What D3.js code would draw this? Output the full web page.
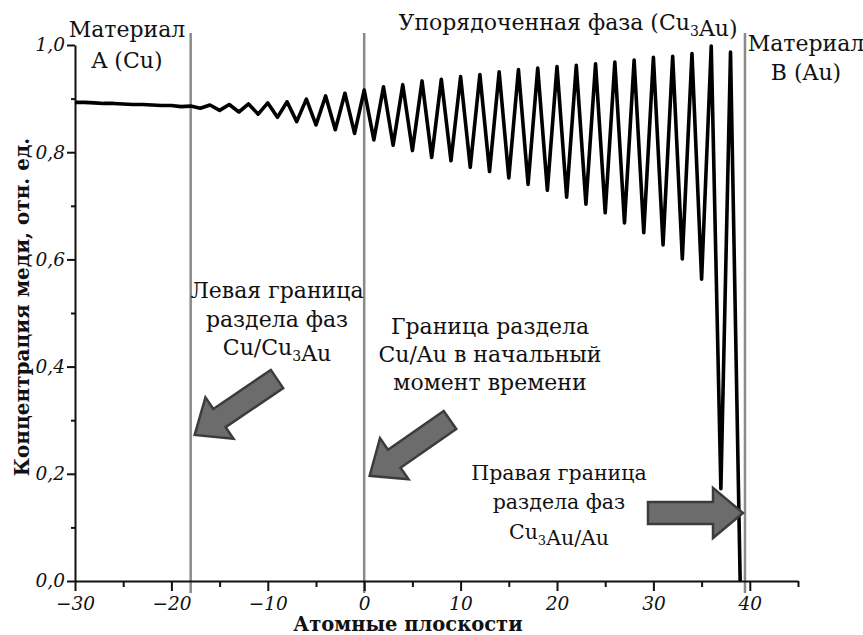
<!DOCTYPE html>
<html>
<head>
<meta charset="utf-8">
<script src="https://cdn.jsdelivr.net/npm/d3@7"></script>
<style>
  body { margin: 0; background: #fff; }
  text { font-family: "DejaVu Serif", "Liberation Serif", serif; fill: #111; }
</style>
</head>
<body>
<div id="chart"></div>
<script>
// atomic plane numbers and the copper concentration
const planes = [
  -30, -29, -28, -27, -26, -25, -24, -23, -22, -21,
  -20, -19, -18, -17, -16, -15, -14, -13, -12, -11,
  -10, -9, -8, -7, -6, -5, -4, -3, -2, -1,
  0, 1, 2, 3, 4, 5, 6, 7, 8, 9,
  10, 11, 12, 13, 14, 15, 16, 17, 18, 19,
  20, 21, 22, 23, 24, 25, 26, 27, 28, 29,
  30, 31, 32, 33, 34, 35, 36, 37, 38, 39
];
const concentration = [
  0.893, 0.893, 0.892, 0.891, 0.891, 0.890, 0.889, 0.889, 0.888, 0.887,
  0.887, 0.885, 0.886, 0.882, 0.888, 0.878, 0.889, 0.875, 0.890, 0.871,
  0.892, 0.865, 0.894, 0.857, 0.899, 0.851, 0.905, 0.842, 0.910, 0.835,
  0.916, 0.823, 0.922, 0.813, 0.926, 0.803, 0.933, 0.790, 0.936, 0.784,
  0.941, 0.772, 0.945, 0.764, 0.950, 0.752, 0.954, 0.740, 0.957, 0.729,
  0.960, 0.716, 0.962, 0.703, 0.965, 0.687, 0.968, 0.668, 0.972, 0.650,
  0.977, 0.627, 0.979, 0.601, 0.984, 0.563, 0.998, 0.172, 0.987, 0.000
];

const xTicks = [-30, -25, -20, -15, -10, -5, 0, 5, 10, 15, 20, 25, 30, 35, 40, 45];
const xLabelled = [-30, -20, -10, 0, 10, 20, 30, 40];
const yTicks = [0, 0.1, 0.2, 0.3, 0.4, 0.5, 0.6, 0.7, 0.8, 0.9, 1.0];
const yLabelled = [0, 0.2, 0.4, 0.6, 0.8, 1.0];

// phase boundaries (in atomic planes)
const boundaries = [-18, 0, 39.5];

const xTitle = "Атомные плоскости";
const yTitle = "Концентрация меди, отн. ед.";

// "_3" marks a subscript digit
const notes = [
  { lines: ["Материал", "A (Cu)"], x: 127, y: [37, 68], size: 22 },
  { lines: ["Упорядоченная фаза (Cu_3Au)"], x: 568, y: [30], size: 22 },
  { lines: ["Материал", "B (Au)"], x: 806, y: [51, 80], size: 22 },
  { lines: ["Левая граница", "раздела фаз", "Cu/Cu_3Au"], x: 277, y: [298, 327, 355], size: 22 },
  { lines: ["Граница раздела", "Cu/Au в начальный", "момент времени"], x: 490, y: [334, 362, 390], size: 22 },
  { lines: ["Правая граница", "раздела фаз", "Cu_3Au/Au"], x: 559, y: [480, 509, 539], size: 20.5 }
];

// block arrows: tail centre -> tip, in pixels
const arrows = [
  { from: [277, 379], to: [193, 436] },
  { from: [450, 420], to: [368, 477] },
  { from: [648, 513], to: [745, 513] }
];

const width = 863, height = 635;

const svg = d3.select("#chart").append("svg")
  .attr("width", width)
  .attr("height", height);

svg.append("rect").attr("width", width).attr("height", height).attr("fill", "#fff");

const x = d3.scaleLinear().domain([-30, 45]).range([75, 798]);
const y = d3.scaleLinear().domain([0, 1]).range([581, 45]);

// phase boundary lines
svg.selectAll("line.boundary")
  .data(boundaries)
  .enter().append("line")
  .attr("class", "boundary")
  .attr("x1", d => x(d)).attr("x2", d => x(d))
  .attr("y1", 33).attr("y2", 593)
  .attr("stroke", "#8a8a8a")
  .attr("stroke-width", 2.5);

// x axis
const fmt = v => (v < 0 ? "\u2212" + Math.abs(v) : String(v));
const xAxis = svg.append("g")
  .attr("transform", `translate(0,${y(0)})`)
  .call(d3.axisBottom(x).tickValues(xTicks).tickSizeOuter(0)
    .tickFormat(d => xLabelled.includes(d) ? fmt(d) : ""));
xAxis.select(".domain").attr("stroke", "#111").attr("stroke-width", 2);
xAxis.selectAll(".tick line")
  .attr("stroke", "#111").attr("stroke-width", 2)
  .attr("y2", d => xLabelled.includes(d) ? 10 : 6);
xAxis.selectAll(".tick text")
  .attr("y", 29).attr("dy", null)
  .style("font-family", "'DejaVu Serif', serif")
  .style("font-style", "italic")
  .style("font-size", "18.5px")
  .attr("fill", "#111");

// y axis
const yAxis = svg.append("g")
  .attr("transform", `translate(${x(-30)},0)`)
  .call(d3.axisLeft(y).tickValues(yTicks).tickSizeOuter(0)
    .tickFormat(d => yLabelled.some(v => Math.abs(v - d) < 1e-9) ? d.toFixed(1).replace(".", ",") : ""));
yAxis.select(".domain").attr("stroke", "#111").attr("stroke-width", 2);
yAxis.selectAll(".tick line")
  .attr("stroke", "#111").attr("stroke-width", 2)
  .attr("x2", d => yLabelled.some(v => Math.abs(v - d) < 1e-9) ? -8 : -4);
yAxis.selectAll(".tick text")
  .attr("x", -10)
  .style("font-family", "'DejaVu Serif', serif")
  .style("font-style", "italic")
  .style("font-size", "18.5px")
  .attr("fill", "#111");

// concentration curve
const line = d3.line()
  .x((d, i) => x(planes[i]))
  .y(d => y(d));

svg.append("path")
  .datum(concentration)
  .attr("d", line)
  .attr("fill", "none")
  .attr("stroke", "#000")
  .attr("stroke-width", 3.6)
  .attr("stroke-linejoin", "round");

// arrows
function arrowShape(len) {
  const sw = 22, hw = 50, hl = 30;
  return [[0, -sw / 2], [len - hl, -sw / 2], [len - hl, -hw / 2], [len, 0],
          [len - hl, hw / 2], [len - hl, sw / 2], [0, sw / 2]];
}
arrows.forEach(a => {
  const dx = a.to[0] - a.from[0], dy = a.to[1] - a.from[1];
  const len = Math.hypot(dx, dy);
  const ang = Math.atan2(dy, dx) * 180 / Math.PI;
  svg.append("polygon")
    .attr("points", arrowShape(len - 2).map(p => p.join(",")).join(" "))
    .attr("transform", `translate(${a.from[0]},${a.from[1]}) rotate(${ang})`)
    .attr("fill", "#6c6c6c")
    .attr("stroke", "#3c3c3c")
    .attr("stroke-width", 2.5)
    .attr("stroke-linejoin", "miter");
});

// annotation text
function writeLine(sel, str, size) {
  const parts = str.split(/_(\d)/);
  parts.forEach((p, i) => {
    if (i % 2 === 1) {
      sel.append("tspan").attr("dy", 6).style("font-size", Math.round(size * 0.64) + "px").text(p);
      sel.append("tspan").attr("dy", -6).text("");
    } else if (p) {
      sel.append("tspan").text(p);
    }
  });
}
notes.forEach(n => {
  n.lines.forEach((ln, i) => {
    const t = svg.append("text")
      .attr("x", n.x).attr("y", n.y[i])
      .attr("text-anchor", "middle")
      .style("font-size", n.size + "px");
    writeLine(t, ln, n.size);
  });
});

// axis titles
svg.append("text")
  .attr("x", 408).attr("y", 631)
  .attr("text-anchor", "middle")
  .style("font-size", "19.5px")
  .style("font-weight", "bold")
  .text(xTitle);

svg.append("text")
  .attr("transform", "translate(29,307) rotate(-90)")
  .attr("text-anchor", "middle")
  .style("font-size", "20px")
  .style("font-weight", "bold")
  .text(yTitle);
</script>
</body>
</html>
